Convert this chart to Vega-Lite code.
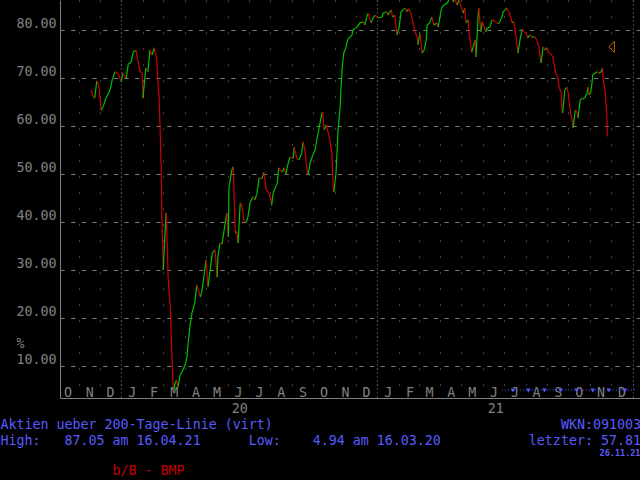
{
  "$schema": "https://vega.github.io/schema/vega-lite/v6.json",
  "width": 580,
  "height": 398,
  "autosize": "none",
  "padding": {"left": 60, "top": 0, "right": 0, "bottom": 82},
  "background": "#000000",
  "config": {"view": {"stroke": null}, "font": "DejaVu Sans Mono"},
  "datasets": {
    "series": [
      {"d":"2019-11-19","v":67.5},{"d":"2019-11-22","v":66.0},{"d":"2019-11-24","v":65.8},{"d":"2019-11-27","v":69.4},{"d":"2019-11-30","v":68.5},
      {"d":"2019-12-03","v":63.3},{"d":"2019-12-06","v":64.0},{"d":"2019-12-10","v":65.8},{"d":"2019-12-16","v":67.5},{"d":"2019-12-19","v":69.6},
      {"d":"2019-12-23","v":71.3},{"d":"2019-12-27","v":71.0},{"d":"2020-01-01","v":69.2},{"d":"2020-01-03","v":71.0},{"d":"2020-01-08","v":70.0},
      {"d":"2020-01-11","v":72.9},{"d":"2020-01-15","v":73.3},{"d":"2020-01-18","v":75.4},{"d":"2020-01-22","v":75.8},{"d":"2020-01-25","v":73.3},
      {"d":"2020-01-28","v":71.3},{"d":"2020-01-31","v":71.0},{"d":"2020-02-01","v":65.8},{"d":"2020-02-05","v":72.1},{"d":"2020-02-08","v":71.3},
      {"d":"2020-02-11","v":75.8},{"d":"2020-02-14","v":74.8},{"d":"2020-02-17","v":76.3},{"d":"2020-02-20","v":74.4},{"d":"2020-02-21","v":73.3},
      {"d":"2020-02-22","v":70.0},{"d":"2020-02-24","v":66.0},{"d":"2020-02-25","v":61.7},{"d":"2020-02-27","v":51.7},{"d":"2020-02-28","v":41.5},
      {"d":"2020-03-01","v":30.0},{"d":"2020-03-05","v":41.9},{"d":"2020-03-06","v":38.3},{"d":"2020-03-08","v":28.3},{"d":"2020-03-11","v":22.3},
      {"d":"2020-03-12","v":17.9},{"d":"2020-03-13","v":13.3},{"d":"2020-03-15","v":6.0},{"d":"2020-03-16","v":4.94},{"d":"2020-03-18","v":6.5},
      {"d":"2020-03-20","v":7.1},{"d":"2020-03-22","v":5.6},{"d":"2020-03-25","v":8.1},{"d":"2020-03-28","v":8.8},{"d":"2020-04-01","v":10.2},
      {"d":"2020-04-04","v":11.9},{"d":"2020-04-05","v":14.0},{"d":"2020-04-08","v":18.1},{"d":"2020-04-11","v":21.0},{"d":"2020-04-15","v":23.1},
      {"d":"2020-04-18","v":26.9},{"d":"2020-04-23","v":24.4},{"d":"2020-04-25","v":25.4},{"d":"2020-04-28","v":28.5},{"d":"2020-05-01","v":32.1},
      {"d":"2020-05-04","v":26.5},{"d":"2020-05-07","v":30.0},{"d":"2020-05-10","v":33.5},{"d":"2020-05-14","v":34.2},{"d":"2020-05-17","v":28.5},
      {"d":"2020-05-18","v":32.7},{"d":"2020-05-21","v":35.6},{"d":"2020-05-24","v":35.4},{"d":"2020-05-27","v":38.3},{"d":"2020-05-31","v":41.9},
      {"d":"2020-06-02","v":36.9},{"d":"2020-06-03","v":47.3},{"d":"2020-06-07","v":50.8},{"d":"2020-06-09","v":51.5},{"d":"2020-06-12","v":37.7},
      {"d":"2020-06-14","v":38.0},{"d":"2020-06-16","v":35.6},{"d":"2020-06-19","v":44.0},{"d":"2020-06-22","v":43.1},{"d":"2020-06-24","v":40.4},
      {"d":"2020-06-27","v":39.8},{"d":"2020-06-30","v":41.0},{"d":"2020-07-03","v":44.0},{"d":"2020-07-07","v":45.2},{"d":"2020-07-10","v":44.6},
      {"d":"2020-07-13","v":46.0},{"d":"2020-07-16","v":49.2},{"d":"2020-07-20","v":49.0},{"d":"2020-07-23","v":50.4},{"d":"2020-07-26","v":46.7},
      {"d":"2020-07-29","v":46.3},{"d":"2020-08-01","v":45.2},{"d":"2020-08-03","v":43.5},{"d":"2020-08-05","v":46.0},{"d":"2020-08-11","v":48.1},
      {"d":"2020-08-13","v":51.3},{"d":"2020-08-18","v":50.4},{"d":"2020-08-21","v":51.3},{"d":"2020-08-23","v":49.8},{"d":"2020-08-26","v":51.9},
      {"d":"2020-08-29","v":53.5},{"d":"2020-09-03","v":53.3},{"d":"2020-09-04","v":55.6},{"d":"2020-09-08","v":53.3},{"d":"2020-09-11","v":52.9},
      {"d":"2020-09-15","v":54.4},{"d":"2020-09-17","v":56.7},{"d":"2020-09-20","v":54.4},{"d":"2020-09-23","v":50.2},{"d":"2020-09-24","v":49.8},
      {"d":"2020-09-27","v":52.3},{"d":"2020-10-01","v":54.0},{"d":"2020-10-04","v":55.0},{"d":"2020-10-07","v":57.5},{"d":"2020-10-10","v":59.8},
      {"d":"2020-10-14","v":62.7},{"d":"2020-10-15","v":62.9},{"d":"2020-10-17","v":59.2},{"d":"2020-10-20","v":60.2},{"d":"2020-10-23","v":58.5},
      {"d":"2020-10-25","v":57.1},{"d":"2020-10-28","v":54.4},{"d":"2020-10-30","v":47.3},{"d":"2020-10-31","v":46.3},{"d":"2020-11-03","v":50.2},
      {"d":"2020-11-06","v":59.2},{"d":"2020-11-09","v":64.0},{"d":"2020-11-10","v":67.9},{"d":"2020-11-12","v":72.3},{"d":"2020-11-14","v":75.2},
      {"d":"2020-11-17","v":76.3},{"d":"2020-11-20","v":78.1},{"d":"2020-11-26","v":79.0},{"d":"2020-11-27","v":80.0},{"d":"2020-12-03","v":80.6},
      {"d":"2020-12-07","v":81.5},{"d":"2020-12-12","v":81.7},{"d":"2020-12-14","v":81.0},{"d":"2020-12-17","v":82.7},{"d":"2020-12-19","v":83.5},
      {"d":"2020-12-23","v":81.5},{"d":"2020-12-26","v":82.5},{"d":"2020-12-29","v":83.1},{"d":"2021-01-02","v":82.5},{"d":"2021-01-08","v":82.7},
      {"d":"2021-01-09","v":83.5},{"d":"2021-01-15","v":83.8},{"d":"2021-01-16","v":83.1},{"d":"2021-01-21","v":84.2},{"d":"2021-01-23","v":82.7},
      {"d":"2021-01-26","v":83.1},{"d":"2021-01-29","v":79.0},{"d":"2021-02-01","v":80.4},{"d":"2021-02-04","v":83.8},{"d":"2021-02-07","v":84.2},
      {"d":"2021-02-10","v":84.6},{"d":"2021-02-12","v":83.8},{"d":"2021-02-15","v":84.4},{"d":"2021-02-18","v":83.5},{"d":"2021-02-21","v":81.5},
      {"d":"2021-02-24","v":79.6},{"d":"2021-02-27","v":78.5},{"d":"2021-02-28","v":76.9},{"d":"2021-03-03","v":79.4},{"d":"2021-03-06","v":75.2},
      {"d":"2021-03-09","v":75.8},{"d":"2021-03-12","v":77.9},{"d":"2021-03-13","v":81.0},{"d":"2021-03-17","v":81.5},{"d":"2021-03-20","v":82.7},
      {"d":"2021-03-23","v":81.0},{"d":"2021-03-27","v":81.5},{"d":"2021-03-29","v":80.6},{"d":"2021-04-01","v":83.1},{"d":"2021-04-03","v":84.6},
      {"d":"2021-04-06","v":85.2},{"d":"2021-04-11","v":85.6},{"d":"2021-04-16","v":87.05},{"d":"2021-04-19","v":85.8},{"d":"2021-04-22","v":86.5},
      {"d":"2021-04-25","v":85.2},{"d":"2021-04-28","v":86.3},{"d":"2021-05-02","v":84.2},{"d":"2021-05-04","v":83.5},{"d":"2021-05-06","v":84.6},
      {"d":"2021-05-08","v":81.5},{"d":"2021-05-11","v":82.1},{"d":"2021-05-12","v":79.6},{"d":"2021-05-15","v":76.5},{"d":"2021-05-16","v":75.4},
      {"d":"2021-05-18","v":76.5},{"d":"2021-05-21","v":77.9},{"d":"2021-05-22","v":74.4},{"d":"2021-05-24","v":79.4},{"d":"2021-05-25","v":82.5},
      {"d":"2021-05-26","v":84.6},{"d":"2021-05-29","v":79.6},{"d":"2021-05-31","v":81.7},{"d":"2021-06-03","v":80.6},{"d":"2021-06-05","v":79.6},
      {"d":"2021-06-07","v":80.4},{"d":"2021-06-11","v":80.6},{"d":"2021-06-14","v":82.1},{"d":"2021-06-17","v":81.9},{"d":"2021-06-21","v":81.5},
      {"d":"2021-06-23","v":81.3},{"d":"2021-06-25","v":81.7},{"d":"2021-06-28","v":82.7},{"d":"2021-06-30","v":83.8},{"d":"2021-07-03","v":84.2},
      {"d":"2021-07-05","v":84.6},{"d":"2021-07-08","v":83.8},{"d":"2021-07-11","v":82.5},{"d":"2021-07-13","v":81.5},{"d":"2021-07-15","v":81.7},
      {"d":"2021-07-18","v":79.0},{"d":"2021-07-21","v":75.2},{"d":"2021-07-24","v":77.9},{"d":"2021-07-27","v":80.2},{"d":"2021-07-30","v":79.6},
      {"d":"2021-08-03","v":79.0},{"d":"2021-08-04","v":78.3},{"d":"2021-08-07","v":79.0},{"d":"2021-08-10","v":78.5},{"d":"2021-08-14","v":78.6},
      {"d":"2021-08-17","v":77.9},{"d":"2021-08-20","v":76.5},{"d":"2021-08-23","v":73.1},{"d":"2021-08-24","v":74.2},{"d":"2021-08-26","v":76.5},
      {"d":"2021-08-29","v":75.8},{"d":"2021-09-01","v":76.3},{"d":"2021-09-03","v":75.2},{"d":"2021-09-06","v":75.0},{"d":"2021-09-09","v":74.4},
      {"d":"2021-09-11","v":72.7},{"d":"2021-09-13","v":71.0},{"d":"2021-09-16","v":70.2},{"d":"2021-09-18","v":68.1},{"d":"2021-09-21","v":66.9},
      {"d":"2021-09-22","v":63.3},{"d":"2021-09-23","v":62.7},{"d":"2021-09-25","v":65.8},{"d":"2021-09-26","v":67.5},{"d":"2021-09-29","v":68.1},
      {"d":"2021-10-01","v":66.9},{"d":"2021-10-02","v":65.4},{"d":"2021-10-05","v":62.3},{"d":"2021-10-06","v":61.7},{"d":"2021-10-08","v":59.6},
      {"d":"2021-10-11","v":63.3},{"d":"2021-10-13","v":63.1},{"d":"2021-10-15","v":61.7},{"d":"2021-10-18","v":65.4},{"d":"2021-10-21","v":65.8},
      {"d":"2021-10-22","v":65.6},{"d":"2021-10-25","v":66.0},{"d":"2021-10-28","v":66.9},{"d":"2021-10-29","v":68.1},{"d":"2021-10-31","v":66.5},
      {"d":"2021-11-02","v":66.9},{"d":"2021-11-04","v":69.0},{"d":"2021-11-05","v":70.6},{"d":"2021-11-08","v":71.0},{"d":"2021-11-11","v":71.3},
      {"d":"2021-11-14","v":71.0},{"d":"2021-11-17","v":71.3},{"d":"2021-11-19","v":72.1},{"d":"2021-11-20","v":69.6},{"d":"2021-11-22","v":67.9},
      {"d":"2021-11-23","v":66.9},{"d":"2021-11-24","v":64.8},{"d":"2021-11-25","v":62.7},{"d":"2021-11-26","v":57.81}
    ],
    "marker": [{"d":"2021-12-02","v":76.5}],
    "pointers": [
      {"d":"2021-07-14","v":4.9},{"d":"2021-08-05","v":4.9},{"d":"2021-08-28","v":4.9},{"d":"2021-09-20","v":4.9},
      {"d":"2021-10-13","v":4.9},{"d":"2021-11-05","v":4.9},{"d":"2021-11-28","v":4.9},{"d":"2021-12-21","v":4.9}
    ],
    "band": [{"d":"2021-06-28","d2":"2022-01-07","v":5.0}]
  },
  "layer": [
    {
      "data": {"name": "series", "format": {"parse": {"d": "date"}}},
      "transform": [
        {"window": [{"op": "lag", "field": "v", "as": "pv"}, {"op": "lag", "field": "d", "as": "pd"}], "sort": [{"field": "d", "order": "ascending"}]},
        {"filter": "datum.pv != null"}
      ],
      "mark": {"type": "rule", "clip": true, "strokeWidth": 1.2},
      "encoding": {
        "x": {
          "field": "pd", "type": "temporal",
          "scale": {"domain": [{"year": 2019, "month": 10, "date": 5, "hours": 8, "minutes": 38}, {"year": 2022, "month": 1, "date": 11, "hours": 14}]},
          "axis": {
            "orient": "bottom",
            "values": [
              {"year":2019,"month":10,"date":16},{"year":2019,"month":11,"date":16},{"year":2019,"month":12,"date":16},
              {"year":2020,"month":1,"date":16},{"year":2020,"month":2,"date":16},{"year":2020,"month":3,"date":16},{"year":2020,"month":4,"date":16},
              {"year":2020,"month":5,"date":16},{"year":2020,"month":6,"date":16},{"year":2020,"month":7,"date":16},{"year":2020,"month":8,"date":16},
              {"year":2020,"month":9,"date":16},{"year":2020,"month":10,"date":16},{"year":2020,"month":11,"date":16},{"year":2020,"month":12,"date":16},
              {"year":2021,"month":1,"date":16},{"year":2021,"month":2,"date":16},{"year":2021,"month":3,"date":16},{"year":2021,"month":4,"date":16},
              {"year":2021,"month":5,"date":16},{"year":2021,"month":6,"date":16},{"year":2021,"month":7,"date":16},{"year":2021,"month":8,"date":16},
              {"year":2021,"month":9,"date":16},{"year":2021,"month":10,"date":16},{"year":2021,"month":11,"date":16},{"year":2021,"month":12,"date":16}
            ],
            "format": "%b",
            "labelExpr": "substring(datum.label, 0, 1)",
            "grid": false, "ticks": false, "tickSize": 0,
            "domain": true, "domainColor": "#808080", "domainWidth": 1,
            "labelColor": "#808080", "labelFont": "DejaVu Sans Mono", "labelFontSize": 13.3,
            "labelPadding": -2, "labelBaseline": "alphabetic", "labelAlign": "center",
            "labelOverlap": false, "labelFlush": false, "labelBound": false,
            "title": "b/B - BMP", "titleColor": "#c00000", "titleFont": "DejaVu Sans Mono", "titleFontSize": 13.3,
            "titleFontWeight": "normal", "titleX": 52, "titleY": 76, "titleAlign": "left", "titleBaseline": "alphabetic"
          }
        },
        "x2": {"field": "d"},
        "y": {
          "field": "pv", "type": "quantitative",
          "scale": {"domain": [3.3333, 86.25], "nice": false, "zero": false},
          "axis": {
            "orient": "left",
            "values": [10, 20, 30, 40, 50, 60, 70, 80],
            "format": ".2f",
            "grid": true, "gridColor": "#808080", "gridDash": [4, 6.67], "gridWidth": 1,
            "ticks": false, "tickSize": 0,
            "domain": true, "domainColor": "#808080",
            "labelColor": "#808080", "labelFont": "DejaVu Sans Mono", "labelFontSize": 13.3,
            "labelPadding": 4, "labelBaseline": "alphabetic", "labelOffset": -2, "labelAlign": "right",
            "title": "%", "titleColor": "#808080", "titleFont": "DejaVu Sans Mono", "titleFontSize": 13.3,
            "titleFontWeight": "normal", "titleAngle": 0, "titleX": -44, "titleY": 347,
            "titleAlign": "left", "titleBaseline": "alphabetic"
          }
        },
        "y2": {"field": "v"},
        "color": {"condition": {"test": "datum.v >= datum.pv", "value": "#00c000"}, "value": "#d00000"}
      }
    },
    {
      "data": {"name": "marker", "format": {"parse": {"d": "date"}}},
      "mark": {"type": "point", "shape": "M0.5,-1L-0.5,0L0.5,1Z", "filled": false, "stroke": "#c86400", "strokeWidth": 1, "size": 121, "opacity": 1},
      "encoding": {
        "x": {
          "field": "d", "type": "temporal",
          "scale": {"domain": [{"year": 2019, "month": 10, "date": 5, "hours": 8, "minutes": 38}, {"year": 2022, "month": 1, "date": 11, "hours": 14}]},
          "axis": {
            "orient": "bottom",
            "tickCount": {"interval": "month", "step": 1},
            "grid": true, "gridColor": "#808080", "gridDash": [1, 15], "gridWidth": 1,
            "labels": false, "ticks": false, "domain": false,
            "title": "26.11.21", "titleColor": "#5a5aff", "titleFont": "DejaVu Sans Mono", "titleFontSize": 8.5,
            "titleFontWeight": "bold", "titleX": 580, "titleY": 57, "titleAlign": "right", "titleBaseline": "alphabetic"
          }
        },
        "y": {"field": "v", "type": "quantitative", "scale": {"domain": [3.3333, 86.25], "nice": false, "zero": false}, "axis": null}
      }
    },
    {
      "data": {"name": "pointers", "format": {"parse": {"d": "date"}}},
      "mark": {"type": "point", "shape": "triangle-down", "filled": true, "color": "#5a5aff", "size": 20, "opacity": 1},
      "encoding": {
        "x": {
          "field": "d", "type": "temporal",
          "scale": {"domain": [{"year": 2019, "month": 10, "date": 5, "hours": 8, "minutes": 38}, {"year": 2022, "month": 1, "date": 11, "hours": 14}]},
          "axis": {
            "orient": "bottom",
            "values": [{"year": 2020, "month": 1, "date": 1}, {"year": 2021, "month": 1, "date": 1}, {"year": 2022, "month": 1, "date": 1}],
            "format": "%y",
            "labelExpr": "datum.label == '22' ? '' : datum.label",
            "grid": true, "gridColor": "#808080", "gridDash": [1, 3], "gridWidth": 1,
            "ticks": false, "tickSize": 0, "domain": false,
            "labelColor": "#808080", "labelFont": "DejaVu Sans Mono", "labelFontSize": 13.3,
            "labelOffset": 118, "labelPadding": 14, "labelBaseline": "alphabetic", "labelAlign": "center",
            "labelOverlap": false, "labelFlush": false, "labelBound": false,
            "title": [
              "Aktien ueber 200-Tage-Linie (virt)\u00a0\u00a0\u00a0\u00a0\u00a0\u00a0\u00a0\u00a0\u00a0\u00a0\u00a0\u00a0\u00a0\u00a0\u00a0\u00a0\u00a0\u00a0\u00a0\u00a0\u00a0\u00a0\u00a0\u00a0\u00a0\u00a0\u00a0\u00a0\u00a0\u00a0\u00a0\u00a0\u00a0\u00a0\u00a0\u00a0WKN:091003",
              "High:\u00a0\u00a0\u00a087.05 am 16.04.21\u00a0\u00a0\u00a0\u00a0\u00a0\u00a0Low:\u00a0\u00a0\u00a0\u00a04.94 am 16.03.20\u00a0\u00a0\u00a0\u00a0\u00a0\u00a0\u00a0\u00a0\u00a0\u00a0\u00a0letzter: 57.81"
            ],
            "titleColor": "#5a5aff", "titleFont": "DejaVu Sans Mono", "titleFontSize": 13.3, "titleFontWeight": "normal",
            "titleX": -60, "titleY": 30, "titleAlign": "left", "titleBaseline": "alphabetic", "titleLineHeight": 16
          }
        },
        "y": {"field": "v", "type": "quantitative", "scale": {"domain": [3.3333, 86.25], "nice": false, "zero": false}, "axis": null}
      }
    },
    {
      "data": {"name": "band", "format": {"parse": {"d": "date", "d2": "date"}}},
      "mark": {"type": "rule", "color": "#5a5aff", "strokeDash": [1, 2], "strokeWidth": 1},
      "encoding": {
        "x": {
          "field": "d", "type": "temporal",
          "scale": {"domain": [{"year": 2019, "month": 10, "date": 5, "hours": 8, "minutes": 38}, {"year": 2022, "month": 1, "date": 11, "hours": 14}]},
          "axis": null
        },
        "x2": {"field": "d2"},
        "y": {"field": "v", "type": "quantitative", "scale": {"domain": [3.3333, 86.25], "nice": false, "zero": false}, "axis": null}
      }
    }
  ],
  "resolve": {"axis": {"x": "independent", "y": "independent"}}
}
